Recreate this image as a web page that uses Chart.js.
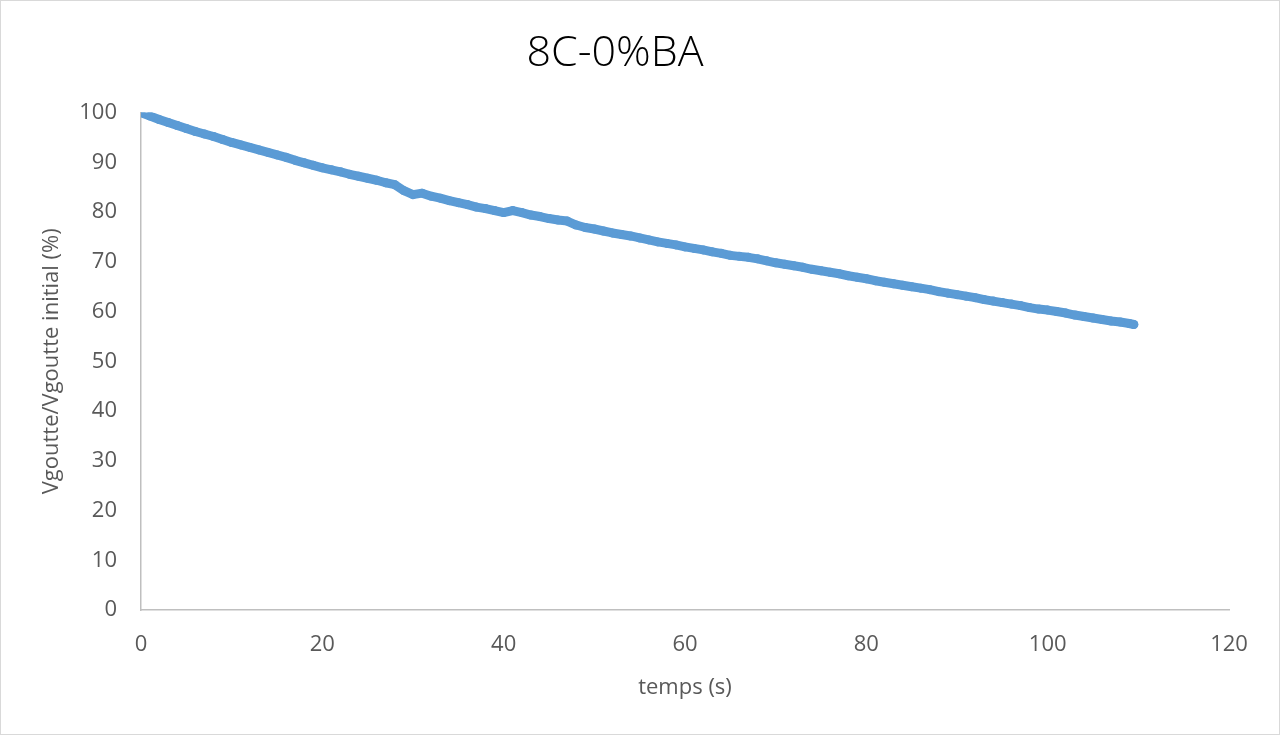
<!DOCTYPE html>
<html>
<head>
  <title>8C-0%BA</title>
  <script src="https://cdn.jsdelivr.net/npm/chart.js"></script>
  <style>
    body {
      margin: 0;
      background: white;
    }
    .chart-box {
      width: 1280px;
      height: 735px;
      box-sizing: border-box;
      border: 1px solid #d9d9d9;
      background: white;
    }
    canvas {
      display: block;
    }
  </style>
</head>
<body>
  <div class="chart-box">
    <canvas id="chart" width="1278" height="733"></canvas>
  </div>

  <script>
    // temps (s)
    const times = [
      0, 1, 2, 3, 4, 5, 6, 7, 8, 9,
      10, 11, 12, 13, 14, 15, 16, 17, 18, 19,
      20, 21, 22, 23, 24, 25, 26, 27, 28, 29,
      30, 31, 32, 33, 34, 35, 36, 37, 38, 39,
      40, 41, 42, 43, 44, 45, 46, 47, 48, 49,
      50, 51, 52, 53, 54, 55, 56, 57, 58, 59,
      60, 61, 62, 63, 64, 65, 66, 67, 68, 69,
      70, 71, 72, 73, 74, 75, 76, 77, 78, 79,
      80, 81, 82, 83, 84, 85, 86, 87, 88, 89,
      90, 91, 92, 93, 94, 95, 96, 97, 98, 99,
      100, 101, 102, 103, 104, 105, 106, 107, 108, 109, 109.5
    ];

    // Vgoutte/Vgoutte initial (%)
    const volumeRatio = [
      100, 99.3, 98.6, 98.0, 97.4, 96.8, 96.2, 95.7, 95.2, 94.6,
      94.0, 93.5, 93.0, 92.5, 92.0, 91.5, 91.0, 90.4, 89.9, 89.4,
      88.9, 88.5, 88.1, 87.6, 87.2, 86.8, 86.4, 85.9, 85.5, 84.3,
      83.5, 83.8, 83.2, 82.8, 82.3, 81.9, 81.5, 81.0, 80.7, 80.3,
      79.9, 80.3, 79.9, 79.4, 79.1, 78.7, 78.4, 78.2, 77.4, 76.9,
      76.6, 76.2, 75.8, 75.5, 75.2, 74.8, 74.4, 74.0, 73.7, 73.4,
      73.0, 72.7, 72.4, 72.0, 71.7, 71.3, 71.1, 70.9, 70.6, 70.2,
      69.8, 69.5, 69.2, 68.9, 68.5, 68.2, 67.9, 67.6, 67.2, 66.9,
      66.6, 66.2, 65.9, 65.6, 65.3, 65.0, 64.7, 64.4, 64.0, 63.7,
      63.4, 63.1, 62.8, 62.4, 62.1, 61.8, 61.5, 61.2, 60.8, 60.5,
      60.3, 60.0, 59.7, 59.3, 59.0, 58.7, 58.4, 58.1, 57.9, 57.6, 57.4
    ];

    const xTicks = [0, 20, 40, 60, 80, 100, 120];
    const yTicks = [0, 10, 20, 30, 40, 50, 60, 70, 80, 90, 100];

    const points = times.map((t, i) => ({ x: t, y: volumeRatio[i] }));

    const blue = '#5b9bd5';
    const textGrey = '#595959';
    const axisGrey = '#bfbfbf';

    new Chart(document.getElementById('chart').getContext('2d'), {
      type: 'scatter',
      data: {
        datasets: [{
          label: '8C-0%BA',
          data: points,
          showLine: true,
          borderColor: blue,
          borderWidth: 9,
          borderCapStyle: 'round',
          borderJoinStyle: 'round',
          backgroundColor: blue,
          pointRadius: 4.5,
          pointBorderWidth: 0,
          tension: 0
        }]
      },
      options: {
        responsive: false,
        animation: false,
        layout: {
          padding: { left: 0, right: 50, top: 0, bottom: 0 }
        },
        plugins: {
          legend: { display: false },
          tooltip: { enabled: false },
          title: {
            display: true,
            text: '8C-0%BA',
            color: '#000000',
            font: { family: 'Open Sans', size: 43, weight: '300' },
            padding: { top: 27, bottom: 33 }
          }
        },
        scales: {
          x: {
            type: 'linear',
            min: 0,
            max: 120,
            afterBuildTicks: scale => { scale.ticks = xTicks.map(v => ({ value: v })); },
            afterFit: scale => { scale.height = 124; },
            grid: { display: false, drawTicks: false },
            border: { display: true, color: axisGrey, width: 1.5 },
            ticks: {
              color: textGrey,
              font: { family: 'Open Sans', size: 22 },
              padding: 22,
              maxRotation: 0
            },
            title: {
              display: true,
              text: 'temps (s)',
              color: textGrey,
              font: { family: 'Open Sans', size: 22 },
              padding: { top: 0, bottom: 33 }
            }
          },
          y: {
            type: 'linear',
            min: 0,
            max: 100,
            afterBuildTicks: scale => { scale.ticks = yTicks.map(v => ({ value: v })); },
            afterFit: scale => { scale.width = 140; },
            grid: { display: false, drawTicks: false },
            border: { display: true, color: axisGrey, width: 1.5 },
            ticks: {
              color: textGrey,
              font: { family: 'Open Sans', size: 22 },
              padding: 24
            },
            title: {
              display: true,
              text: 'Vgoutte/Vgoutte initial (%)',
              color: textGrey,
              font: { family: 'Open Sans', size: 22 },
              padding: { top: 38, bottom: 0 }
            }
          }
        }
      }
    });
  </script>
</body>
</html>
